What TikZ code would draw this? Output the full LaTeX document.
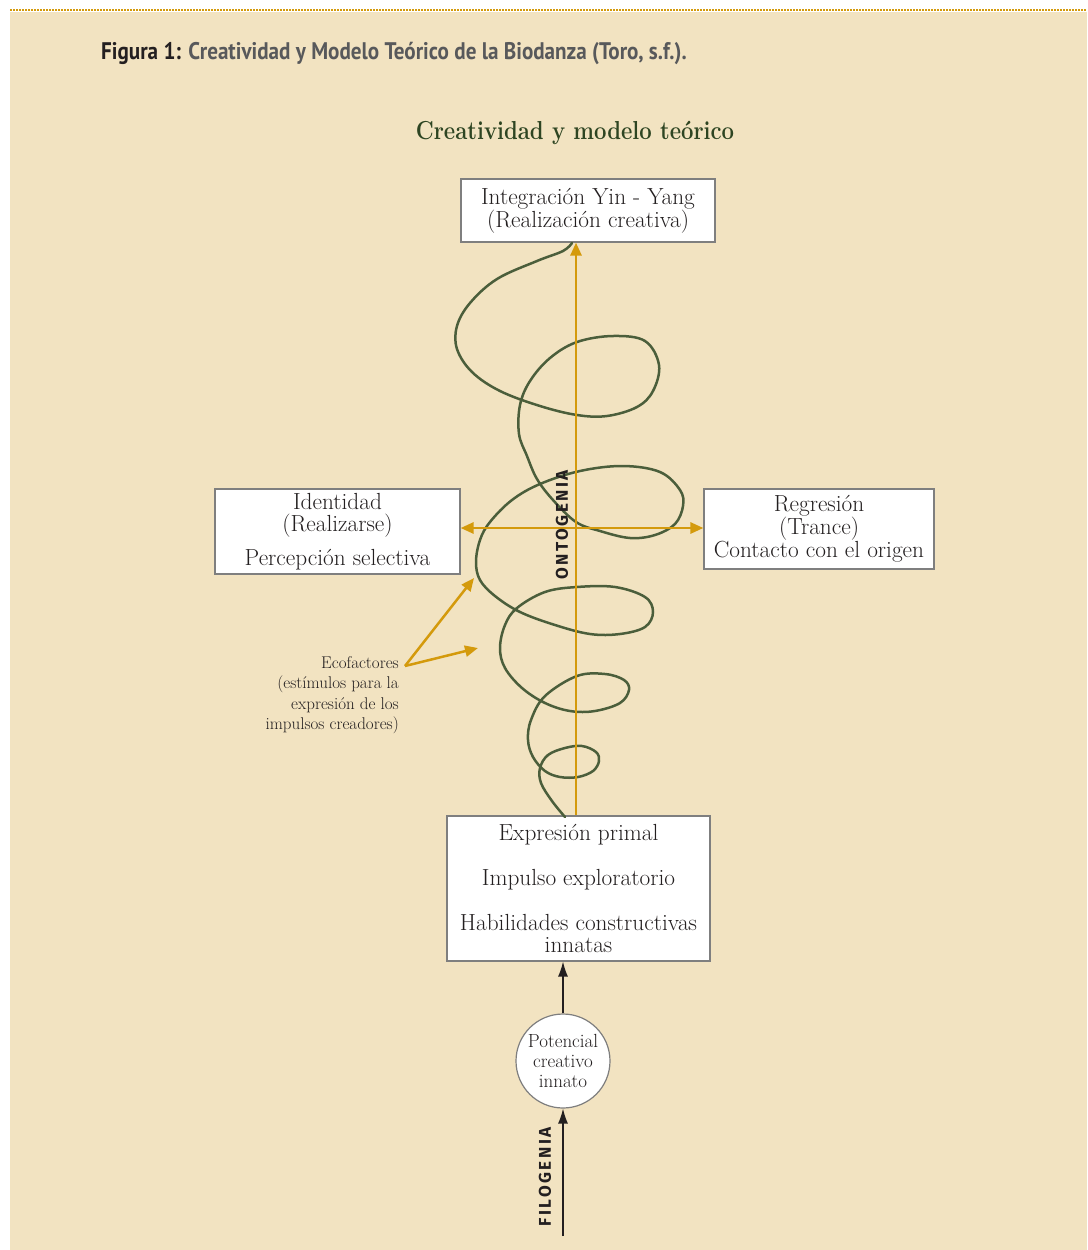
\documentclass[tikz,border=0pt]{standalone}
\usepackage{fontspec}
\usetikzlibrary{arrows.meta}
\newfontfamily\capfont{PT Sans}[FakeStretch=0.88]
\newfontfamily\axisfont{Fira Sans}[LetterSpace=15]
\definecolor{bgc}{HTML}{F2E3C1}
\definecolor{gold}{HTML}{D49A0C}
\definecolor{spir}{HTML}{4B5E3B}
\definecolor{ttl}{HTML}{2E4522}
\definecolor{txt}{HTML}{231F20}
\definecolor{capgray}{HTML}{58595B}
\definecolor{bord}{HTML}{7F7F7F}
\tikzset{
  boxn/.style={draw=bord, line width=1.2pt, fill=white, text=txt, align=center, inner sep=0pt, font=\fontsize{23.3}{22}\selectfont},
  goldarrow/.style={draw=gold, line width=2.8pt, -{Triangle[length=13pt,width=11pt]}},
  goldboth/.style={draw=gold, line width=2.8pt, {Triangle[length=13pt,width=11pt]}-{Triangle[length=13pt,width=11pt]}},
  blackarrow/.style={draw=txt, line width=1.3pt, -{Latex[length=15pt,width=10pt]}},
  axislabel/.style={rotate=90, inner sep=0pt, text=txt, font=\axisfont\bfseries\fontsize{17}{20}\selectfont},
}
\begin{document}
\begin{tikzpicture}[x=1pt,y=-1pt]
\useasboundingbox (0,0) rectangle (1087,1250);
\fill[white] (0,0) rectangle (1087,1250);
\fill[bgc] (10,12) rectangle (1087,1250);
\draw[gold, line width=2pt, dash pattern=on 1.5pt off 1.5pt] (10,10) -- (1087,10);

\node[anchor=base west, inner sep=0pt, font=\capfont\bfseries\fontsize{24}{28}\selectfont] (cap) at (101,59)
  {\textcolor{txt}{Figura 1:} \textcolor{capgray}{Creatividad y Modelo Teórico de la Biodanza (Toro, s.f.).}};

\node[anchor=base, inner sep=0pt, text=ttl, font=\bfseries\fontsize{26}{30}\selectfont] (title) at (575,139)
  {\scalebox{0.85}[1]{Creatividad y modelo teórico}};

% boxes
\node[boxn, minimum width=254pt, minimum height=63pt] (topb) at (588,210.5)
  {Integración Yin - Yang\\(Realización creativa)};
\node[boxn, minimum width=245pt, minimum height=85pt] (leftb) at (337.5,531.5)
  {Identidad\\(Realizarse)\\[11pt]Percepción selectiva};
\node[boxn, minimum width=230pt, minimum height=80pt] (rightb) at (819,529)
  {Regresión\\(Trance)\\Contacto con el origen};
\node[boxn, minimum width=263pt, minimum height=145pt] (botb) at (578.5,888.5)
  {Expresión primal\\[23pt]Impulso exploratorio\\[23pt]Habilidades constructivas\\innatas};
\node[circle, draw=bord, line width=1.2pt, fill=white, text=txt, align=center, inner sep=0pt,
  minimum size=94pt, font=\fontsize{19}{20}\selectfont] (pot) at (563,1061)
  {Potencial\\creativo\\innato};

% spiral
\draw[spir, line width=2.5pt, line cap=round] plot[smooth, tension=0.6] coordinates {
(565,817) (552,801) (541,783) (540,768) (548,755) (565,748) (582,746) (596,752) (599,761)
(593,771) (578,777) (560,777) (545,771) (533,757) (528,740) (531,720) (545,696) (577,676)
(605,674) (624,680) (629,690) (620,703) (595,711) (570,711) (545,703) (522,688) (505,668)
(500,648) (505,625) (517,608) (545,592) (577,587) (615,587) (645,597) (653,612) (645,627)
(620,634) (590,634) (555,625) (520,612) (495,596) (480,580) (476,562) (480,540) (490,522)
(512,500) (540,484) (580,471) (623,466) (660,472) (680,490) (683,506) (675,524) (655,535)
(630,538) (600,531) (576,522) (553,500) (537,479) (527,456) (519,434) (520,405) (530,381)
(550,358) (577,342) (613,336) (645,341) (659,365) (653,391) (637,407) (607,416) (577,415)
(540,406) (500,391) (472,372) (457,349) (457,326) (470,303) (497,279) (537,261) (563,251)
(572,243)};

% ontogenia axis
\coordinate (ax) at (576,0);
\coordinate (hy) at (0,528);
\draw[goldarrow] (botb.north -| ax) -- (topb.south -| ax);
\draw[goldboth] (leftb.east |- hy) -- (rightb.west |- hy);

\node[axislabel] (onto) at (562,525) {ONTOGENIA};

% ecofactores
\node[anchor=east, align=right, inner sep=0pt, text=txt, font=\fontsize{17}{20.5}\selectfont] (eco) at (399,695)
  {Ecofactores\\(estímulos para la\\expresión de los\\impulsos creadores)};
\coordinate (ecop) at (405,666);
\coordinate (e1) at (474,578);
\coordinate (e2) at (478,648);
\draw[goldarrow, line width=2.5pt] (ecop) -- (e1);
\draw[goldarrow, line width=2.5pt] (ecop) -- (e2);

% filogenia
\draw[blackarrow] (pot.north) -- (pot.north |- botb.south);
\coordinate (filo) at (563,1236);
\draw[blackarrow] (filo) -- (pot.south);
\node[axislabel] (filot) at (545,1177) {FILOGENIA};
\end{tikzpicture}
\end{document}
